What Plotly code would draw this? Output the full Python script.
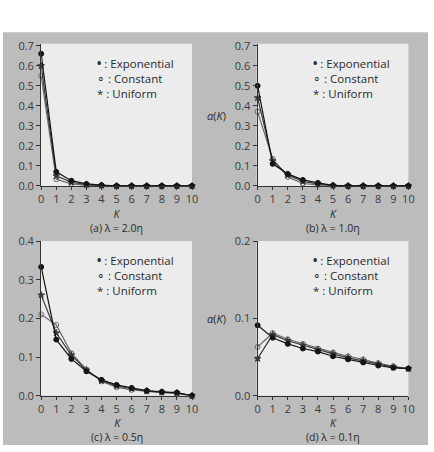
import plotly.graph_objects as go

W, H = 434, 452

K = list(range(11))

# (a) lambda = 2.0 eta
a_exp = [0.66, 0.07, 0.026, 0.01, 0.004, 0.0, 0.0, 0.0, 0.0, 0.0, 0.0]
a_con = [0.55, 0.033, 0.01, 0.003, 0.001, 0.0, 0.0, 0.0, 0.0, 0.0, 0.0]
a_uni = [0.60, 0.05, 0.018, 0.006, 0.002, 0.0, 0.0, 0.0, 0.0, 0.0, 0.0]
# (b) lambda = 1.0 eta
b_exp = [0.50, 0.11, 0.06, 0.03, 0.015, 0.003, 0.0, 0.0, 0.0, 0.0, 0.0]
b_con = [0.37, 0.135, 0.045, 0.012, 0.005, 0.001, 0.0, 0.0, 0.0, 0.0, 0.0]
b_uni = [0.44, 0.125, 0.055, 0.022, 0.01, 0.002, 0.0, 0.0, 0.0, 0.0, 0.0]
# (c) lambda = 0.5 eta
c_exp = [0.333, 0.145, 0.095, 0.063, 0.041, 0.028, 0.02, 0.013, 0.01, 0.008, 0.0]
c_con = [0.21, 0.183, 0.11, 0.068, 0.037, 0.022, 0.015, 0.011, 0.008, 0.005, 0.0]
c_uni = [0.26, 0.162, 0.105, 0.066, 0.039, 0.025, 0.018, 0.012, 0.009, 0.007, 0.0]
# (d) lambda = 0.1 eta
d_exp = [0.091, 0.075, 0.067, 0.061, 0.057, 0.051, 0.047, 0.043, 0.039, 0.036, 0.035]
d_con = [0.063, 0.081, 0.073, 0.067, 0.061, 0.056, 0.051, 0.047, 0.042, 0.038, 0.035]
d_uni = [0.048, 0.079, 0.071, 0.065, 0.059, 0.054, 0.049, 0.045, 0.041, 0.037, 0.035]

captions = ["(a) λ = 2.0η", "(b) λ = 1.0η", "(c) λ = 0.5η", "(d) λ = 0.1η"]
series_names = ["Exponential", "Constant", "Uniform"]

panels = [
    dict(exp=a_exp, con=a_con, uni=a_uni, ymax=0.71, px=(39, 193), py=(37, 184), ylab=None),
    dict(exp=b_exp, con=b_con, uni=b_uni, ymax=0.71, px=(260, 414), py=(37, 184), ylab=0.35),
    dict(exp=c_exp, con=c_con, uni=c_uni, ymax=0.4, px=(39, 193), py=(241, 401), ylab=None),
    dict(exp=d_exp, con=d_con, uni=d_uni, ymax=0.2, px=(260, 414), py=(241, 401), ylab=0.1),
]

FONT = "Open Sans"
INK = "#2a2a2a"

fig = go.Figure()
layout = dict(width=W, height=H, margin=dict(l=0, r=0, t=0, b=0),
              paper_bgcolor="#ffffff", showlegend=False,
              font=dict(family=FONT, color=INK, size=11))
shapes = [dict(type="rect", xref="paper", yref="paper", x0=0, x1=1,
               y0=0, y1=1 - 25 / H, fillcolor="#bcbcbc", line=dict(width=0), layer="below")]
annotations = []

for i, p in enumerate(panels):
    n = "" if i == 0 else str(i + 1)
    xa, ya = "x" + n, "y" + n
    x0, x1 = p["px"]
    y0, y1 = p["py"]
    shapes.append(dict(type="rect", xref="paper", yref="paper",
                       x0=(x0 - 1) / W, x1=x1 / W, y0=1 - y1 / H, y1=1 - y0 / H,
                       fillcolor="#ececec", line=dict(width=0), layer="below"))
    series = [
        (p["con"], "circle-open", "#6a6a6a"),
        (p["uni"], "star", "#3a3a3a"),
        (p["exp"], "circle", "#151515"),
    ]
    for vals, sym, col in series:
        fig.add_trace(go.Scatter(x=K, y=vals, xaxis=xa, yaxis=ya, mode="lines+markers",
                                 line=dict(color=col, width=1.2),
                                 marker=dict(symbol=sym, size=5, color=col,
                                             line=dict(width=1, color=col)),
                                 cliponaxis=False))
    layout["xaxis" + n] = dict(domain=[x0 / W, x1 / W], range=[0, 10], anchor=ya,
                               tickmode="array", tickvals=K, ticktext=[str(k) for k in K],
                               showgrid=False, zeroline=False, showline=True,
                               linecolor="#333", linewidth=1.2, ticks="outside",
                               ticklen=3, tickcolor="#333",
                               tickfont=dict(size=11, color="#3a3a3a", family=FONT))
    nt = int(p["ymax"] / 0.1 + 1e-6)
    tv = [round(j * 0.1, 1) for j in range(nt + 1)]
    layout["yaxis" + n] = dict(domain=[1 - y1 / H, 1 - y0 / H], range=[0, p["ymax"]],
                               anchor=xa, tickmode="array", tickvals=tv,
                               ticktext=[f"{v:.1f}" for v in tv],
                               showgrid=False, zeroline=False, showline=True,
                               linecolor="#333", linewidth=1.2, ticks="outside",
                               ticklen=4, tickcolor="#333",
                               tickfont=dict(size=11, color="#3a3a3a", family=FONT))
    cx = (x0 + x1) / 2 / W
    annotations.append(dict(xref="paper", yref="paper", x=cx, y=1 - (y1 + 36) / H,
                            xanchor="center", yanchor="middle",
                            text="<i>K</i><br>" + captions[i], showarrow=False,
                            font=dict(size=10.5, color=INK)))
    leg_txt = "<br>".join([f"<b>•</b> : {series_names[0]}",
                           f"∘ : {series_names[1]}",
                           f"* : {series_names[2]}"])
    annotations.append(dict(xref="paper", yref="paper", x=(x0 + 55) / W,
                            y=1 - (y0 + 36) / H, xanchor="left", yanchor="middle",
                            align="left", text=leg_txt, showarrow=False,
                            font=dict(size=11.5, color=INK)))
    if p["ylab"] is not None:
        yy = 1 - (y1 - (y1 - y0) * p["ylab"] / p["ymax"]) / H
        annotations.append(dict(xref="paper", yref="paper", x=218 / W, y=yy,
                                xanchor="center", yanchor="middle",
                                text="<i>α</i>(<i>K</i>)", showarrow=False,
                                font=dict(size=11, color=INK)))

layout["shapes"] = shapes
layout["annotations"] = annotations
fig.update_layout(**layout)
fig.write_html("out.html")
